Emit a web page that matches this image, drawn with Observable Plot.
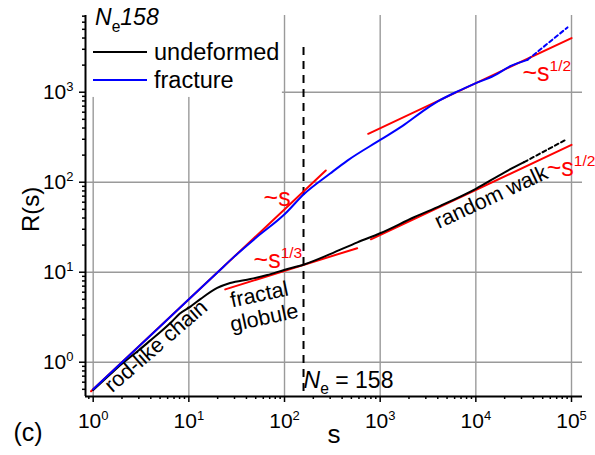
<!DOCTYPE html>
<html>
<head>
<meta charset="utf-8">
<script src="https://cdn.jsdelivr.net/npm/d3@7"></script>
<script src="https://cdn.jsdelivr.net/npm/@observablehq/plot@0.6"></script>
<style>
  body { margin: 0; background: #fff; }
  #chart svg { display: block; }
</style>
</head>
<body>
<div id="chart"></div>
<script>
// Spatial distance R(s) between monomers separated by contour length s, N_e = 158.
// Undeformed melt (solid part, then dotted extrapolation).
const undeformedS = [1, 1.5, 2, 3, 4, 5, 6.7, 8, 10.4, 13.3, 19.8, 27, 44, 66, 99, 160, 304, 578, 1000, 2260, 4300, 10000, 20000, 31900];
const undeformedR = [0.49, 0.73, 0.96, 1.36, 1.76, 2.15, 2.85, 3.45, 4.15, 5.06, 6.7, 7.6, 8.4, 9.3, 10.6, 12.2, 16, 21.5, 27.1, 40.8, 55, 84.5, 129, 167];
const undeformedTailS = [31900, 87000];
const undeformedTailR = [167, 296];

// Fractured sample.
const fractureS = [1, 2, 5, 10, 20, 30, 50, 100, 160, 300, 454, 1000, 1700, 3000, 4000, 6420, 9500, 15500, 23200, 34700];
const fractureR = [0.5, 1.0, 2.5, 5.0, 10, 15, 24, 44, 74, 125, 174, 295, 420, 650, 790, 1020, 1230, 1530, 1960, 2290];
const fractureTailS = [34700, 90800];
const fractureTailR = [2290, 5250];

// Power-law guides: ~s, ~s^(1/3), ~s^(1/2) (two of them).
const guideLinearS = [0.95, 270];
const guideLinearR = [0.475, 135];
const guideThirdS = [24, 575];
const guideThirdR = [6.45, 18.5];
const guideHalfLowS = [800, 100000];
const guideHalfLowR = [23.2, 260];
const guideHalfHighS = [750, 100000];
const guideHalfHighR = [345, 4000];

// Entanglement length marker.
const neS = 158;
const neTopR = 3140;
const neLabel = "*N*_{e} = 158";
const neLabelR = 0.523;

// Guide labels (red) and regime labels (black).
const guideText = ["~s", "~s^{1/3}", "~s^{1/2}", "~s^{1/2}"];
const guideTextS = [60.4, 47.5, 30700, 55000];
const guideTextR = [55, 11.0, 1349, 118.6];

const regimeText = ["rod-like chain", "fractal\nglobule", "random walk"];
const regimeTextS = [4.48, 57.6, 14300];
const regimeTextR = [1.53, 4.27, 69.4];
const regimeAngle = [-41, -12, -25];

// Axes.
const xDomain = [0.831, 130300];
const yDomain = [0.416, 7120];
const xMajor = [1, 10, 100, 1000, 10000, 100000];
const yMajor = [1, 10, 100, 1000];
const legendBoxS = 95;
const legendBoxR = 875;

const minorOf = (lo, hi) => {
  const out = [];
  for (let e = -1; e <= 5; e++) for (let k = 2; k <= 9; k++) {
    const v = k * Math.pow(10, e);
    if (v > lo && v < hi) out.push(v);
  }
  return out;
};
const xMinor = minorOf(xDomain[0], xDomain[1]);
const yMinor = minorOf(yDomain[0], yDomain[1]);
const pow10 = d => `10^{${Math.round(Math.log10(d))}}`;

const pts = (S, R) => S.map((s, i) => ({s, r: R[i]}));
const line = (S, R, opts) => Plot.line(pts(S, R), {x: "s", y: "r", strokeWidth: 2, ...opts});

const font = "Arial, 'Liberation Sans', sans-serif";

const chart = Plot.plot({
  width: 595,
  height: 455,
  marginLeft: 85,
  marginRight: 13,
  marginTop: 15,
  marginBottom: 59,
  style: {fontFamily: font, fontSize: "21px", background: "white", color: "black", overflow: "visible"},
  x: {type: "log", domain: xDomain, nice: false},
  y: {type: "log", domain: yDomain, nice: false},
  marks: [
    Plot.gridX(xMajor, {stroke: "#9a9a9a", strokeOpacity: 1, strokeWidth: 1.4}),
    Plot.gridY(yMajor, {stroke: "#9a9a9a", strokeOpacity: 1, strokeWidth: 1.4}),
    Plot.rect([0], {x1: xDomain[0], x2: legendBoxS, y1: legendBoxR, y2: yDomain[1], fill: "white"}),

    Plot.ruleX([neS], {y1: neTopR, y2: yDomain[0], stroke: "black", strokeWidth: 2, strokeDasharray: "8,6"}),

    line(guideLinearS, guideLinearR, {stroke: "#ff0000"}),
    line(guideThirdS, guideThirdR, {stroke: "#ff0000"}),
    line(guideHalfLowS, guideHalfLowR, {stroke: "#ff0000"}),
    line(guideHalfHighS, guideHalfHighR, {stroke: "#ff0000"}),

    line(undeformedS, undeformedR, {stroke: "black", curve: "monotone-x"}),
    line(undeformedTailS, undeformedTailR, {stroke: "black", strokeDasharray: "4,3"}),
    line(fractureS, fractureR, {stroke: "#0000ff", curve: "monotone-x"}),
    line(fractureTailS, fractureTailR, {stroke: "#0000ff", strokeDasharray: "4,3"}),

    Plot.text(guideText, {x: (d, i) => guideTextS[i], y: (d, i) => guideTextR[i], text: d => d,
      textAnchor: "start", lineAnchor: "bottom", fill: "#ff0000", fontSize: 25}),
    Plot.text(regimeText, {x: (d, i) => regimeTextS[i], y: (d, i) => regimeTextR[i], text: d => d,
      rotate: (d, i) => regimeAngle[i], textAnchor: "middle", lineAnchor: "middle", fill: "black", fontSize: 21.5, lineHeight: 1.1}),
    Plot.text([neLabel], {x: neS, y: neLabelR, text: d => d, textAnchor: "start", lineAnchor: "bottom", fill: "black", fontSize: 23}),

    Plot.ruleX([xDomain[0]], {stroke: "black", strokeWidth: 2}),
    Plot.ruleY([yDomain[0]], {stroke: "black", strokeWidth: 2}),
    Plot.axisX(xMajor, {anchor: "bottom", tickSize: 6, tickPadding: 11, tickFormat: pow10, label: null, fontSize: 21, strokeWidth: 1.5}),
    Plot.axisX(xMinor, {anchor: "bottom", tickSize: 3, tickFormat: () => "", label: null, strokeWidth: 1.5}),
    Plot.axisY(yMajor, {anchor: "left", tickSize: 6, tickPadding: 6, tickFormat: pow10, label: null, fontSize: 21, strokeWidth: 1.5}),
    Plot.axisY(yMinor, {anchor: "left", tickSize: 3, tickFormat: () => "", label: null, strokeWidth: 1.5}),

    Plot.text(["R(s)"], {frameAnchor: "left", dx: -54, dy: 26, rotate: -90, fontSize: 24, fill: "black"}),
    Plot.text(["s"], {frameAnchor: "bottom", dy: 46, fontSize: 26, fill: "black"}),
    Plot.text(["(c)"], {frameAnchor: "bottom-left", dx: -72, dy: 44, textAnchor: "start", lineAnchor: "bottom", fontSize: 25, fill: "black"})
  ]
});

document.getElementById("chart").appendChild(chart);

// Legend in the upper-left corner of the frame.
const svg = d3.select(chart);
const legend = svg.append("g")
  .attr("font-family", font)
  .attr("font-size", 23.5)
  .attr("text-anchor", "start")
  .attr("fill", "black");
legend.append("text").attr("x", 95).attr("y", 25).attr("font-size", 23).text("*N*_{e}*158*");
const entries = [
  {label: "undeformed", color: "black", y: 52},
  {label: "fracture", color: "#0000ff", y: 80}
];
for (const e of entries) {
  legend.append("line").attr("x1", 93).attr("x2", 147).attr("y1", e.y).attr("y2", e.y)
    .attr("stroke", e.color).attr("stroke-width", 2);
  legend.append("text").attr("x", 154).attr("y", e.y + 8).text(e.label);
}

// Render ^{..} superscripts, _{..} subscripts and *..* italics as tspans.
const svgNS = "http://www.w3.org/2000/svg";
function richText(el) {
  const raw = el.textContent;
  if (!/[\^_*]/.test(raw) || el.querySelector("tspan")) return;
  const fs = parseFloat(getComputedStyle(el).fontSize);
  while (el.firstChild) el.removeChild(el.firstChild);
  let offset = 0, italic = false;
  for (const part of raw.split(/(\^\{[^}]*\}|_\{[^}]*\}|\*)/)) {
    if (part === "") continue;
    if (part === "*") { italic = !italic; continue; }
    const span = document.createElementNS(svgNS, "tspan");
    let target = 0, body = part;
    if (part.startsWith("^{")) {
      target = -0.4 * fs; body = part.slice(2, -1);
      span.setAttribute("font-size", (0.62 * fs).toFixed(1));
    } else if (part.startsWith("_{")) {
      target = 0.3 * fs; body = part.slice(2, -1);
      span.setAttribute("font-size", (0.68 * fs).toFixed(1));
    }
    if (target !== offset) span.setAttribute("dy", (target - offset).toFixed(1));
    offset = target;
    if (italic) span.setAttribute("font-style", "italic");
    span.textContent = body;
    el.appendChild(span);
  }
}
svg.selectAll("text").each(function() { richText(this); });
</script>
</body>
</html>
